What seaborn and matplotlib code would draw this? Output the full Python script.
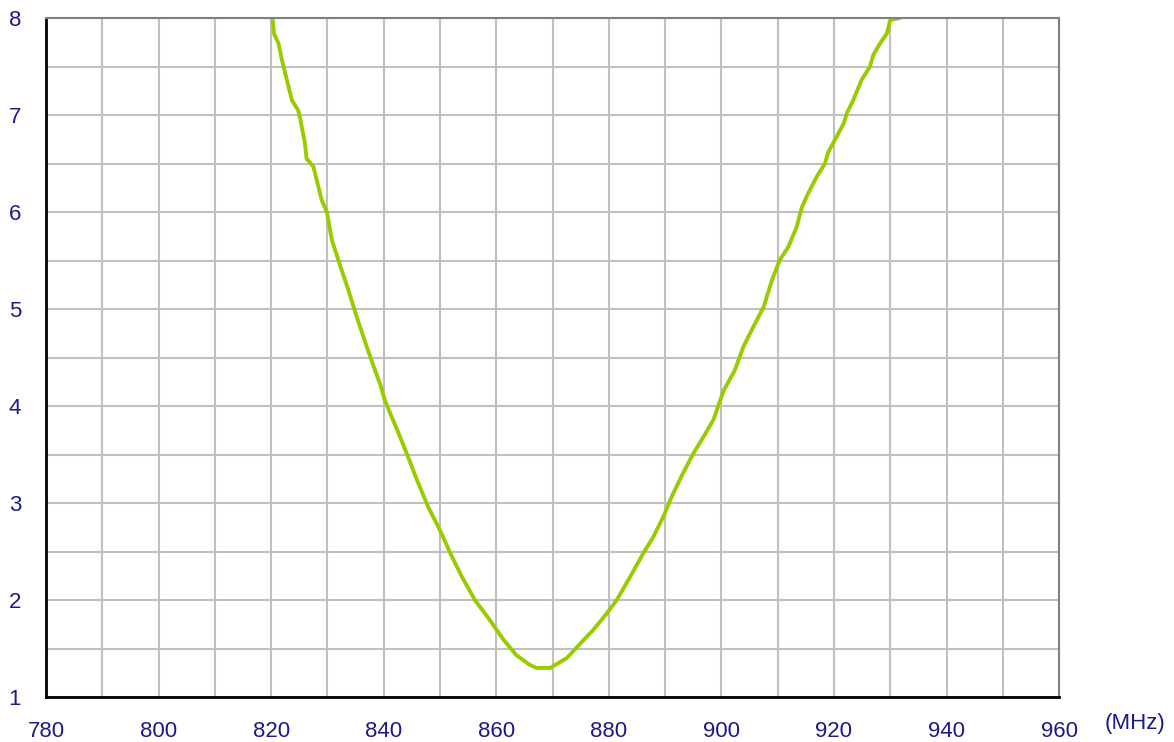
import matplotlib
matplotlib.use("Agg")
import matplotlib.pyplot as plt
import seaborn as sns
import pandas as pd
import numpy as np

# frequency (MHz) and VSWR
freq = [820.2, 820.3, 820.5, 821.3, 821.9, 822.8, 823.7, 824.8, 825.2, 826.0, 826.3,
        827.5, 829.0, 829.9, 830.8, 832.3, 833.7, 835.2, 837.0, 838.2, 839.4,
        840.2, 841.4, 842.5, 844.1, 845.9, 847.9, 850.0, 852.1, 853.9, 856.2,
        858.9, 861.3, 863.6, 866.0, 867.2, 868.5, 869.6, 871.3, 872.5, 874.9,
        877.2, 879.6, 881.4, 883.8, 886.1, 887.9, 889.7, 891.2, 893.2, 895.0,
        896.8, 898.6, 900.4, 902.4, 903.9, 905.7, 907.5, 909.0, 910.4, 911.9,
        913.4, 914.3, 915.4, 916.9, 918.4, 919.0, 920.5, 921.7, 922.3, 923.4,
        924.9, 926.4, 927.0, 928.2, 929.4, 930.0, 931.7]
vswr = [8.0, 7.97, 7.84, 7.74, 7.57, 7.36, 7.15, 7.05, 6.95, 6.71, 6.55,
        6.47, 6.12, 6.0, 5.71, 5.44, 5.20, 4.92, 4.61, 4.41, 4.22,
        4.06, 3.89, 3.74, 3.51, 3.24, 2.96, 2.72, 2.45, 2.24, 2.0,
        1.79, 1.59, 1.43, 1.33, 1.30, 1.30, 1.30, 1.36, 1.40, 1.55,
        1.69, 1.86, 2.0, 2.24, 2.48, 2.65, 2.86, 3.07, 3.31, 3.51,
        3.68, 3.86, 4.16, 4.37, 4.61, 4.82, 5.02, 5.30, 5.51, 5.64,
        5.85, 6.05, 6.19, 6.36, 6.50, 6.62, 6.78, 6.91, 7.02, 7.15,
        7.36, 7.50, 7.62, 7.74, 7.84, 7.98, 8.0]

x_labels = [780, 800, 820, 840, 860, 880, 900, 920, 940, 960]
y_labels = [1, 2, 3, 4, 5, 6, 7, 8]

df = pd.DataFrame({"freq": freq, "vswr": vswr})

sns.set_style("white")
plt.rcParams['font.family'] = ['Liberation Sans', 'DejaVu Sans']

fig = plt.figure(figsize=(11.74, 7.42), dpi=100)
ax = fig.add_axes([0.0392, 0.0606, 0.8629, 0.9151])

sns.lineplot(x='freq', y='vswr', data=df, color='#99cc00', linewidth=2.8, ax=ax)

ax.set_xlim(780, 960)
ax.set_ylim(1, 8)
ax.set_xticks(np.arange(780, 961, 10), minor=True)
ax.set_yticks(np.arange(1, 8.01, 0.5), minor=True)
ax.set_xticks(x_labels)
ax.set_yticks(y_labels)
ax.set_xticklabels([str(v) for v in x_labels])
ax.set_yticklabels([str(v) for v in y_labels])
ax.grid(True, which='both', color='#c0c0c0', linewidth=1.5)
ax.set_axisbelow(True)

ax.tick_params(axis='x', which='major', direction='in', length=3, width=1.5,
               color='black', labelsize=16, labelcolor='#1a1a8c', pad=17)
ax.tick_params(axis='y', which='major', direction='in', length=3, width=1.5,
               color='black', labelsize=16, labelcolor='#1a1a8c', pad=18)
ax.tick_params(which='minor', length=0)

ax.spines['left'].set_color('black')
ax.spines['bottom'].set_color('black')
ax.spines['left'].set_linewidth(2)
ax.spines['bottom'].set_linewidth(2)
ax.spines['top'].set_color('#808080')
ax.spines['right'].set_color('#808080')
ax.spines['top'].set_linewidth(1.5)
ax.spines['right'].set_linewidth(1.5)

ax.set_xlabel('')
ax.set_ylabel('')
fig.text(0.9668, 0.0243, '(MHz)', color='#1a1a8c', fontsize=16, ha='center', va='center')

fig.savefig('out.png', dpi=100)
